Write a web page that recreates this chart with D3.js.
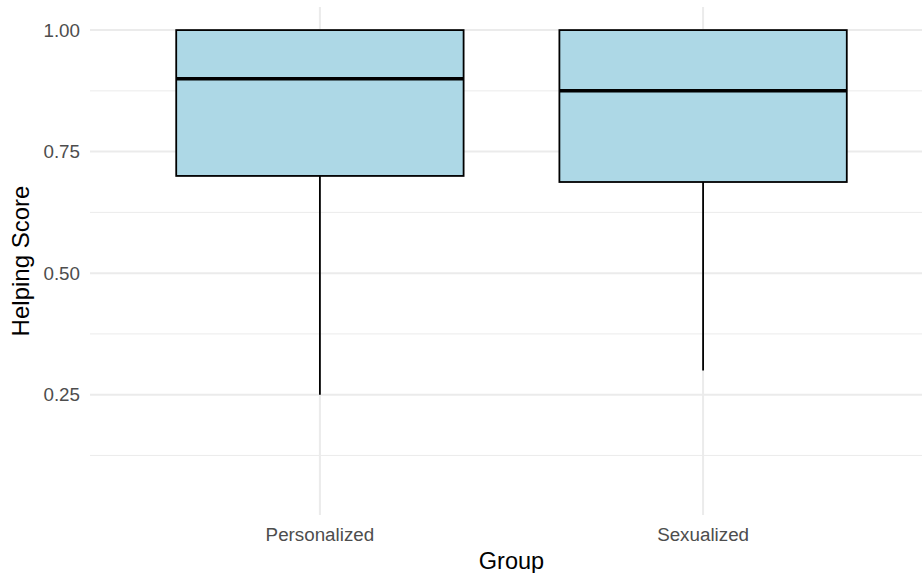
<!DOCTYPE html>
<html>
<head>
<meta charset="utf-8">
<script src="https://cdn.jsdelivr.net/npm/d3@7"></script>
<style>
  html, body { margin: 0; padding: 0; background: #fff; }
  svg { display: block; font-family: "Liberation Sans", Arial, sans-serif; }
</style>
</head>
<body>
<svg id="chart" width="922" height="573"></svg>
<script>
// Box plot summaries for each group
const groups = ["Personalized", "Sexualized"];
const whiskerLow = [0.25, 0.30];
const q1 = [0.70, 0.6875];
const median = [0.90, 0.875];
const q3 = [1.00, 1.00];
const whiskerHigh = [1.00, 1.00];

const yTicks = [0.25, 0.50, 0.75, 1.00];
const yMinorTicks = [0.125, 0.375, 0.625, 0.875];
const yDomain = [0.0025, 1.0475];

const width = 922, height = 573;
const panel = { left: 90, right: 933, top: 7, bottom: 515 };

const svg = d3.select("#chart");

// discrete x positions: categories 1..n with 0.6 expansion on each side
const x = d3.scaleLinear()
  .domain([0.4, groups.length + 0.6])
  .range([panel.left, panel.right]);
const boxWidth = 0.75;

const y = d3.scaleLinear().domain(yDomain).range([panel.bottom, panel.top]);

const grid = svg.append("g");
// minor horizontal grid
grid.selectAll("line.minor").data(yMinorTicks).join("line")
  .attr("class", "minor")
  .attr("x1", panel.left).attr("x2", panel.right)
  .attr("y1", d => y(d)).attr("y2", d => y(d))
  .attr("stroke", "#ebebeb").attr("stroke-width", 1);
// major horizontal grid
grid.selectAll("line.major").data(yTicks).join("line")
  .attr("class", "major")
  .attr("x1", panel.left).attr("x2", panel.right)
  .attr("y1", d => y(d)).attr("y2", d => y(d))
  .attr("stroke", "#ebebeb").attr("stroke-width", 2);
// vertical grid at category positions
grid.selectAll("line.vx").data(groups).join("line")
  .attr("class", "vx")
  .attr("x1", (d, i) => x(i + 1)).attr("x2", (d, i) => x(i + 1))
  .attr("y1", panel.top).attr("y2", panel.bottom)
  .attr("stroke", "#ebebeb").attr("stroke-width", 2);

// boxes
const boxes = svg.append("g").selectAll("g").data(groups).join("g");

boxes.append("line")
  .attr("x1", (d, i) => x(i + 1)).attr("x2", (d, i) => x(i + 1))
  .attr("y1", (d, i) => y(q1[i])).attr("y2", (d, i) => y(whiskerLow[i]))
  .attr("stroke", "#000").attr("stroke-width", 1.8);
boxes.append("line")
  .attr("x1", (d, i) => x(i + 1)).attr("x2", (d, i) => x(i + 1))
  .attr("y1", (d, i) => y(q3[i])).attr("y2", (d, i) => y(whiskerHigh[i]))
  .attr("stroke", "#000").attr("stroke-width", 1.8);

boxes.append("rect")
  .attr("x", (d, i) => x(i + 1 - boxWidth / 2))
  .attr("width", x(1 + boxWidth / 2) - x(1 - boxWidth / 2))
  .attr("y", (d, i) => y(q3[i]))
  .attr("height", (d, i) => y(q1[i]) - y(q3[i]))
  .attr("fill", "#add8e6")
  .attr("stroke", "#000").attr("stroke-width", 1.8);

boxes.append("line")
  .attr("x1", (d, i) => x(i + 1 - boxWidth / 2))
  .attr("x2", (d, i) => x(i + 1 + boxWidth / 2))
  .attr("y1", (d, i) => y(median[i])).attr("y2", (d, i) => y(median[i]))
  .attr("stroke", "#000").attr("stroke-width", 3.5);

// y axis tick labels
svg.append("g").selectAll("text").data(yTicks).join("text")
  .attr("x", 80).attr("y", d => y(d))
  .attr("dy", "0.35em")
  .attr("text-anchor", "end")
  .attr("font-size", 18.8)
  .attr("fill", "#4d4d4d")
  .text(d => d3.format(".2f")(d));

// x axis tick labels
svg.append("g").selectAll("text").data(groups).join("text")
  .attr("x", (d, i) => x(i + 1)).attr("y", 541)
  .attr("text-anchor", "middle")
  .attr("font-size", 18.8)
  .attr("fill", "#4d4d4d")
  .text(d => d);

// axis titles
svg.append("text")
  .attr("x", (panel.left + panel.right) / 2).attr("y", 569)
  .attr("text-anchor", "middle")
  .attr("font-size", 23.5)
  .attr("fill", "#000")
  .text("Group");

svg.append("text")
  .attr("transform", `translate(29,${(panel.top + panel.bottom) / 2}) rotate(-90)`)
  .attr("text-anchor", "middle")
  .attr("font-size", 24)
  .attr("fill", "#000")
  .text("Helping Score");
</script>
</body>
</html>
